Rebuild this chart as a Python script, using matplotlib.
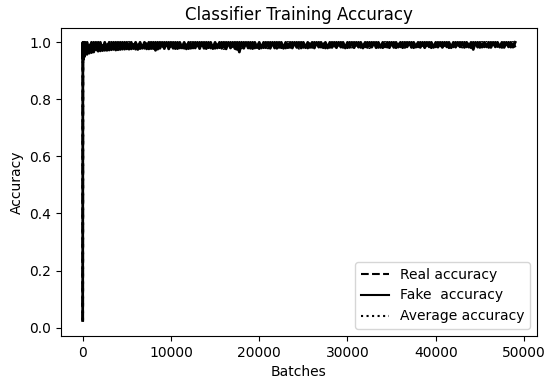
import matplotlib
matplotlib.use("Agg")
import matplotlib.pyplot as plt
import numpy as np

# batch index for each logged accuracy value
batches = [0, 20, 50, 100, 150, 200] + list(range(250, 49001, 250))

real_accuracy = [
    0.02, 0.93, 1.0, 0.94, 1.0, 0.95,
    1.0, 0.958, 1.0, 0.964, 1.0, 0.968, 1.0, 0.97, 1.0, 0.972, 1.0, 0.973, 1.0, 0.975, 1.0, 0.974, 1.0, 0.976, 1.0, 0.977,
    1.0, 0.977, 1.0, 0.976, 1.0, 0.978, 1.0, 0.979, 1.0, 0.977, 1.0, 0.978, 1.0, 0.976, 1.0, 0.979, 1.0, 0.978, 1.0, 0.979,
    1.0, 0.978, 1.0, 0.98, 1.0, 0.979, 1.0, 0.978, 1.0, 0.98, 1.0, 0.979, 1.0, 0.981, 1.0, 0.978, 1.0, 0.98, 1.0, 0.979,
    1.0, 0.981, 1.0, 0.978, 1.0, 0.98, 1.0, 0.979, 1.0, 0.964, 1.0, 0.98, 1.0, 0.981, 1.0, 0.979, 1.0, 0.98, 1.0, 0.978,
    1.0, 0.981, 1.0, 0.98, 1.0, 0.982, 1.0, 0.979, 1.0, 0.981, 1.0, 0.98, 1.0, 0.982, 1.0, 0.981, 1.0, 0.979, 1.0, 0.982,
    1.0, 0.98, 1.0, 0.982, 1.0, 0.981, 1.0, 0.983, 1.0, 0.98, 1.0, 0.982, 1.0, 0.981, 1.0, 0.983, 1.0, 0.982, 1.0, 0.981,
    1.0, 0.983, 1.0, 0.981, 1.0, 0.982, 1.0, 0.984, 1.0, 0.981, 1.0, 0.983, 1.0, 0.982, 1.0, 0.981, 1.0, 0.983, 1.0, 0.982,
    1.0, 0.981, 1.0, 0.984, 1.0, 0.982, 1.0, 0.983, 1.0, 0.981, 1.0, 0.984, 1.0, 0.983, 1.0, 0.982, 1.0, 0.981, 1.0, 0.984,
    1.0, 0.982, 1.0, 0.983, 1.0, 0.981, 1.0, 0.984, 1.0, 0.982, 1.0, 0.983, 1.0, 0.984, 1.0, 0.981, 1.0, 0.983, 1.0, 0.982,
    1.0, 0.984, 1.0, 0.982, 1.0, 0.983, 1.0, 0.985, 1.0, 0.982, 1.0, 0.984, 1.0, 0.983, 1.0, 0.982,
]

fake_accuracy = [
    0.03, 1.0, 0.94, 1.0, 0.95, 1.0,
    0.955, 1.0, 0.962, 1.0, 0.966, 1.0, 0.969, 1.0, 0.971, 1.0, 0.972, 1.0, 0.974, 1.0, 0.973, 1.0, 0.975, 1.0, 0.976, 1.0,
    0.976, 1.0, 0.978, 1.0, 0.975, 1.0, 0.979, 1.0, 0.977, 1.0, 0.978, 1.0, 0.972, 1.0, 0.979, 1.0, 0.978, 1.0, 0.977, 1.0,
    0.979, 1.0, 0.978, 1.0, 0.98, 1.0, 0.977, 1.0, 0.979, 1.0, 0.98, 1.0, 0.978, 1.0, 0.979, 1.0, 0.981, 1.0, 0.978, 1.0,
    0.98, 1.0, 0.979, 1.0, 0.977, 1.0, 0.98, 1.0, 0.978, 1.0, 0.966, 1.0, 0.979, 1.0, 0.98, 1.0, 0.978, 1.0, 0.981, 1.0,
    0.98, 1.0, 0.981, 1.0, 0.979, 1.0, 0.98, 1.0, 0.982, 1.0, 0.979, 1.0, 0.981, 1.0, 0.98, 1.0, 0.982, 1.0, 0.98, 1.0,
    0.981, 1.0, 0.982, 1.0, 0.98, 1.0, 0.983, 1.0, 0.981, 1.0, 0.98, 1.0, 0.982, 1.0, 0.981, 1.0, 0.983, 1.0, 0.98, 1.0,
    0.982, 1.0, 0.981, 1.0, 0.983, 1.0, 0.98, 1.0, 0.982, 1.0, 0.983, 1.0, 0.981, 1.0, 0.982, 1.0, 0.984, 1.0, 0.981, 1.0,
    0.982, 1.0, 0.983, 1.0, 0.981, 1.0, 0.984, 1.0, 0.982, 1.0, 0.983, 1.0, 0.982, 1.0, 0.981, 1.0, 0.984, 1.0, 0.982, 1.0,
    0.983, 1.0, 0.982, 1.0, 0.984, 1.0, 0.981, 1.0, 0.983, 1.0, 0.984, 1.0, 0.982, 1.0, 0.983, 1.0, 0.975, 1.0, 0.983, 1.0,
    0.983, 1.0, 0.984, 1.0, 0.982, 1.0, 0.984, 1.0, 0.983, 1.0, 0.982, 1.0, 0.984, 1.0, 0.983, 1.0,
]

# average of the real and fake accuracies at each batch
average_accuracy = list((np.array(real_accuracy) + np.array(fake_accuracy)) / 2)

fig, ax = plt.subplots(figsize=(5.5, 3.83), dpi=100)
fig.subplots_adjust(left=0.111, right=0.976, top=0.926, bottom=0.123)

ax.plot(batches, real_accuracy, color="black", linestyle="--", linewidth=2, label="Real accuracy")
ax.plot(batches, fake_accuracy, color="black", linestyle="-", linewidth=2, label="Fake  accuracy")
ax.plot(batches, average_accuracy, color="black", linestyle=":", linewidth=2, label="Average accuracy")

ax.set_title("Classifier Training Accuracy", fontsize=12)
ax.set_xlabel("Batches", fontsize=10)
ax.set_ylabel("Accuracy", fontsize=10)
ax.tick_params(labelsize=10)
leg = ax.legend(loc="lower right", fontsize=10)
for line in leg.get_lines():
    line.set_linewidth(1.5)

fig.savefig("out.png")
